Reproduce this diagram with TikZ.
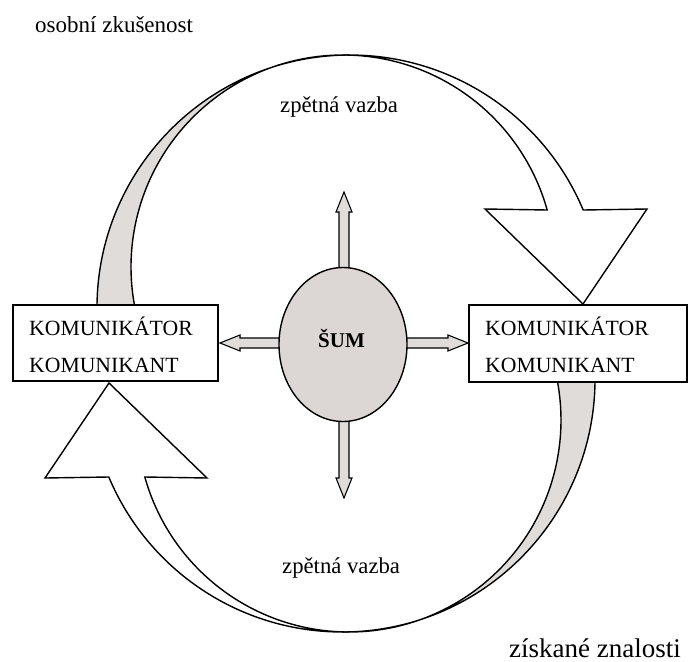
\documentclass[tikz,border=0pt]{standalone}
\usepackage{fontspec}
\setmainfont{Liberation Serif}
\usetikzlibrary{shapes.geometric}
\begin{document}
\begin{tikzpicture}[x=1pt,y=-1pt,line join=miter]
\definecolor{band}{HTML}{E0DCDA}
\definecolor{noise}{HTML}{DCD6D4}
\tikzset{
  outline/.style={draw=black,line width=1.4pt},
  box/.style={draw=black,line width=1.6pt,fill=white,rectangle,inner sep=0pt},
  caps/.style={inner sep=0pt,font=\fontsize{21.7}{24}\selectfont},
  small/.style={inner sep=0pt,font=\fontsize{23}{26}\selectfont},
  noisearrow/.style={fill=band,draw=black,line width=1.1pt},
  noiseshape/.style={ellipse,draw=black,fill=noise,line width=1.4pt,minimum width=128pt,minimum height=154pt,inner sep=0pt},
}
\useasboundingbox (0,0) rectangle (689,662);

% upper ring: grey back side (left) and white arrow (right)
\filldraw[fill=band,outline] (97,305) arc[start angle=180.68,end angle=270,radius=253] -- (343,55)
  arc[start angle=270,end angle=169.67,radius=212] -- cycle;
\filldraw[fill=white,outline] (343,55) arc[start angle=270,end angle=344.4,radius=212]
  -- (485,209) -- (583,304) -- (647,209) -- (583.2,210)
  arc[start angle=337.2,end angle=270,radius=253] -- cycle;

% lower ring
\filldraw[fill=band,outline] (595,382) arc[start angle=0.68,end angle=90,radius=253] -- (349,632)
  arc[start angle=90,end angle=-10.33,radius=212] -- cycle;
\filldraw[fill=white,outline] (349,632) arc[start angle=90,end angle=164.4,radius=212]
  -- (207,478) -- (109,383) -- (45,478) -- (108.8,477)
  arc[start angle=157.2,end angle=90,radius=253] -- cycle;

% noise arrows
\filldraw[noisearrow] (339,285) -- (339,212) -- (336,212) -- (344,192) -- (352,212) -- (349,212) -- (349,285) -- cycle;
\filldraw[noisearrow] (339,405) -- (339,478) -- (336,478) -- (344,498) -- (352,478) -- (349,478) -- (349,405) -- cycle;
\filldraw[noisearrow] (292,338) -- (240,338) -- (240,335) -- (220,343) -- (240,351) -- (240,348) -- (292,348) -- cycle;
\filldraw[noisearrow] (395,338) -- (448,338) -- (448,335) -- (468,343) -- (448,351) -- (448,348) -- (395,348) -- cycle;

\node[noiseshape] (sum) at (343,344.5) {};
\node[inner sep=0pt,anchor=base,font=\fontsize{21}{24}\selectfont\bfseries] (sumtext) at (341.5,347) {ŠUM};

% boxes
\node[box,minimum width=205pt,minimum height=76pt] (left) at (115.5,343) {};
\node[box,minimum width=218pt,minimum height=77pt] (right) at (578,343.5) {};
\node[caps,anchor=base west] (l1) at (29,335) {KOMUNIKÁTOR};
\node[caps,anchor=base west] (l2) at (29,372) {KOMUNIKANT};
\node[caps,anchor=base west] (r1) at (485,335) {KOMUNIKÁTOR};
\node[caps,anchor=base west] (r2) at (485,372) {KOMUNIKANT};

% labels
\node[small,anchor=base west] (exp) at (35,32) {osobní zkušenost};
\node[small,anchor=base west,font=\fontsize{22.7}{26}\selectfont] (fbtop) at (280,112) {zpětná vazba};
\node[small,anchor=base west,font=\fontsize{22.7}{26}\selectfont] (fbbot) at (282,573) {zpětná vazba};
\node[small,anchor=base west,font=\fontsize{27}{30}\selectfont] (know) at (509,657) {získané znalosti};
\end{tikzpicture}
\end{document}
